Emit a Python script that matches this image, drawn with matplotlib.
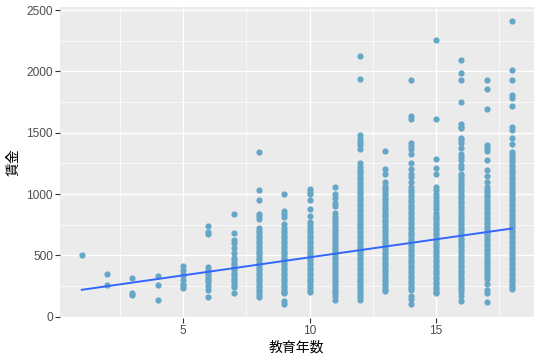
import matplotlib
matplotlib.use("Agg")
import matplotlib.pyplot as plt
from matplotlib.ticker import MultipleLocator

# wages, one list per years of education
wage_1 = [500]
wage_2 = [350, 260]
wage_3 = [320, 195, 180]
wage_4 = [330, 260, 140]
wage_5 = [410, 380, 350, 330, 300, 270, 250, 235]
wage_6 = [740, 690, 675, 405, 380, 360, 340, 320, 300, 280, 250, 220, 160]
wage_7 = [840, 680, 630, 600, 560, 520, 480, 460, 440, 420, 400, 380, 360,
          340, 320, 300, 280, 260, 240, 190]
wage_8 = [1340, 1035, 955, 840, 820, 800,
          720, 700, 680, 660, 640, 620, 600, 580, 560, 540, 520, 500, 480, 460,
          440, 420, 400, 380, 360, 340, 320, 300, 280, 260, 240, 220, 200, 180, 160]
wage_9 = [1000, 865, 840, 810, 760,
          720, 700, 680, 660, 640, 620, 600, 580, 560, 540, 520, 500, 480, 460,
          440, 420, 400, 380, 360, 340, 320, 300, 280, 260, 240, 220, 200, 190,
          130, 105]
wage_10 = [1045, 1020, 1000, 955, 875, 825, 770, 750,
           720, 700, 680, 660, 640, 620, 600, 580, 560, 540, 520, 500, 480, 460,
           440, 420, 400, 380, 360, 340, 320, 300, 280, 260, 240, 220, 200]
wage_11 = [1060, 1000, 970, 930, 905, 850,
           810, 790, 770, 750, 730, 710, 690, 670, 650, 630, 610, 590, 570, 550,
           530, 510, 490, 470, 450, 430, 410, 390, 370, 350, 330, 310, 290, 270,
           250, 230, 210, 190, 170, 140]
wage_12 = [2125, 1935, 1485, 1450, 1425, 1400, 1370, 1255,
           1220, 1200, 1180, 1160, 1140, 1120, 1100, 1080, 1060, 1040, 1020, 1000,
           980, 960, 940, 920, 900, 880, 860, 840, 820, 800, 780, 760, 740, 720,
           700, 680, 660, 640, 620, 600, 580, 560, 540, 520, 500, 480, 460, 440,
           420, 400, 380, 360, 340, 320, 300, 280, 260, 240, 220, 200, 180, 160, 140]
wage_13 = [1350, 1205, 1165, 1100,
           1070, 1050, 1030, 1010, 990, 970, 950, 930, 910, 890, 870, 850, 830,
           810, 790, 770, 750, 730, 710, 690, 670, 650, 630, 610, 590, 570, 550,
           530, 510, 490, 470, 450, 430, 410, 390, 370, 350, 330, 310, 290, 270,
           250, 230, 210]
wage_14 = [1930, 1640, 1610, 1415, 1390, 1370, 1330, 1250, 1205, 1165, 1140, 1100,
           1055, 1035, 1015, 995, 975, 955, 935, 915, 895, 875, 855, 835, 815, 795,
           775, 755, 735, 715, 695, 675, 655, 635, 615, 595, 575, 555, 535, 515,
           495, 475, 455, 435, 415, 395, 375, 355, 335, 315, 295, 275, 255, 235,
           215, 170, 145, 105]
wage_15 = [2255, 1610, 1290, 1210, 1160, 1055, 1030, 1000, 975, 950, 925, 900, 875, 850,
           825, 805, 785, 765, 745, 725, 705, 685, 665, 645, 625, 605, 585, 565,
           545, 525, 505, 485, 465, 445, 425, 405, 385, 365, 345, 325, 305, 285,
           265, 245, 225, 205, 190]
wage_16 = [2090, 1990, 1930, 1755, 1570, 1550, 1535, 1460, 1440, 1420, 1380, 1330,
           1300, 1275, 1235, 1210,
           1165, 1145, 1125, 1105, 1085, 1065, 1045, 1025, 1005, 985, 965, 945,
           925, 905, 885, 865, 845, 825, 805, 785, 765, 745, 725, 705, 685, 665,
           645, 625, 605, 585, 565, 545, 525, 505, 485, 465, 445, 425, 405, 385,
           365, 345, 325, 305, 285, 265, 245, 225, 205, 170, 130]
wage_17 = [1930, 1855, 1690, 1400, 1380, 1355, 1275, 1195, 1145, 1095,
           1055, 1035, 1015, 995, 975, 955, 935, 915, 895, 875, 855, 835, 815, 795,
           775, 755, 735, 715, 695, 675, 655, 635, 615, 595, 575, 555, 535, 515,
           495, 475, 455, 435, 415, 395, 375, 355, 335, 310, 270, 220, 195, 120]
wage_18 = [2410, 2010, 1930, 1805, 1780, 1715, 1545, 1520, 1460, 1405,
           1340, 1320, 1300, 1280, 1260, 1240, 1220, 1200, 1180, 1160, 1140, 1120,
           1100, 1080, 1060, 1040, 1020, 1000, 980, 960, 940, 920, 900, 880, 860,
           840, 820, 800, 780, 760, 740, 720, 700, 680, 660, 640, 620, 600, 580,
           560, 540, 520, 500, 480, 460, 440, 420, 400, 380, 360, 340, 320, 300,
           280, 260, 240, 230]

wages = [wage_1, wage_2, wage_3, wage_4, wage_5, wage_6, wage_7, wage_8, wage_9,
         wage_10, wage_11, wage_12, wage_13, wage_14, wage_15, wage_16, wage_17, wage_18]
educ_years = list(range(1, 19))

# fitted regression line (lm), read at its ends
fit_x = [1, 18]
fit_y = [220, 720]

x_ticks = [5, 10, 15]
y_ticks = [0, 500, 1000, 1500, 2000, 2500]

fig = plt.figure(figsize=(5.44, 3.62), dpi=100)
ax = fig.add_axes([0.1108, 0.1215, 0.8700, 0.8590])

ax.set_facecolor("#EBEBEB")
for s in ax.spines.values():
    s.set_visible(False)

ax.set_xlim(0.15, 18.85)
ax.set_ylim(-10, 2525)
ax.set_xticks(x_ticks)
ax.set_yticks(y_ticks)
ax.xaxis.set_minor_locator(MultipleLocator(2.5))
ax.yaxis.set_minor_locator(MultipleLocator(250))
ax.grid(which="major", color="white", linewidth=1.0)
ax.grid(which="minor", color="white", linewidth=0.5)
ax.set_axisbelow(True)
ax.tick_params(which="major", length=3.3, width=0.8, color="#333333",
               labelsize=8.6, labelcolor="#4D4D4D", pad=2)
ax.tick_params(which="minor", length=0)
for lab in ax.get_xticklabels() + ax.get_yticklabels():
    lab.set_family("Liberation Sans")

for e, w in zip(educ_years, wages):
    ax.scatter([e] * len(w), w, s=20, color="#66A6C6", linewidths=0, zorder=3)

ax.plot(fit_x, fit_y, color="#3366FF", linewidth=1.4, zorder=4)

ax.set_xlabel("教育年数", fontsize=10, family="Noto Sans CJK JP", labelpad=2)
ax.set_ylabel("賃金", fontsize=10, family="Noto Sans CJK JP", labelpad=4)

fig.savefig("out.png", dpi=100)
